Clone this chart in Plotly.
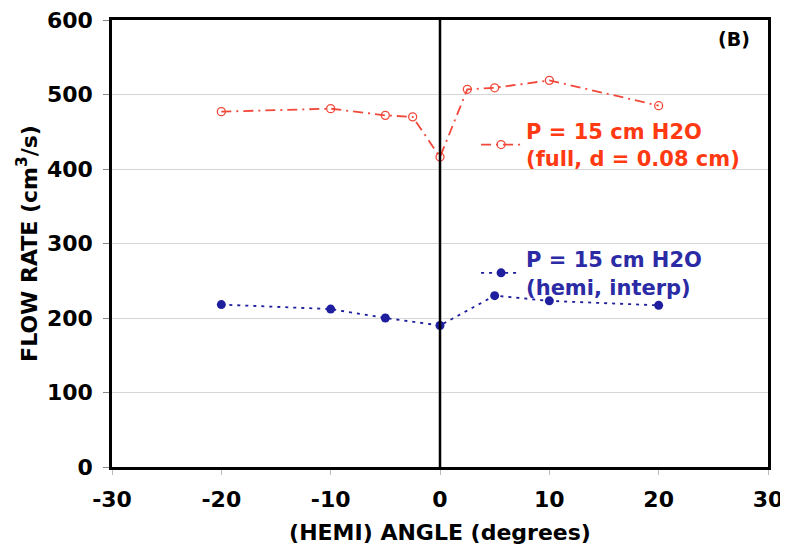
import plotly.graph_objects as go

full_angle = [-20, -10, -5, -2.5, 0, 2.5, 5, 10, 20]
full_flow = [477, 481, 472, 470, 416, 507, 509, 519, 485]
hemi_angle = [-20, -10, -5, 0, 5, 10, 20]
hemi_flow = [218, 212, 200, 190, 230, 223, 217]
x_ticks = [-30, -20, -10, 0, 10, 20, 30]
x_tick_labels = ["-30", "-20", "-10", "0", "10", "20", "30"]
y_ticks = [0, 100, 200, 300, 400, 500, 600]

FONT = "DejaVu Sans"
RED = "#F2483A"
RED_TXT = "#FF3A12"
BLUE = "#1E1E9E"
BLUE_TXT = "#2B2BA5"

fig = go.Figure()
fig.add_trace(go.Scatter(
    x=full_angle, y=full_flow, mode="lines+markers",
    name="P = 15 cm H2O<br>(full, d = 0.08 cm)",
    line=dict(color=RED, width=1.8, dash="10px,5px,2px,5px"),
    marker=dict(symbol="circle-open", size=8, color=RED, line=dict(width=1.3)),
    legend="legend", showlegend=True,
))
fig.add_trace(go.Scatter(
    x=hemi_angle, y=hemi_flow, mode="lines+markers",
    name="P = 15 cm H2O<br>(hemi, interp)",
    line=dict(color=BLUE, width=1.8, dash="3px,5px"),
    marker=dict(symbol="circle", size=9, color=BLUE),
    legend="legend2", showlegend=True,
))

fig.add_shape(type="line", x0=0, x1=0, y0=0, y1=600, xref="x", yref="y",
              line=dict(color="black", width=2.5))

fig.add_annotation(x=1, y=1, xref="paper", yref="paper", text="<b>(B)</b>",
                   showarrow=False, xanchor="right", yanchor="middle", xshift=-16, yshift=-19,
                   font=dict(family=FONT, size=19, color="black"))

fig.update_layout(
    width=780, height=539,
    margin=dict(l=104, r=20, t=12, b=80),
    plot_bgcolor="white", paper_bgcolor="white",
    showlegend=True,
    font=dict(family=FONT, color="black"),
    legend=dict(x=0.555, y=0.797, xanchor="left", yanchor="top",
                bgcolor="rgba(0,0,0,0)", itemwidth=40,
                font=dict(family=FONT, size=21, color=RED_TXT, weight="bold")),
    legend2=dict(x=0.555, y=0.51, xanchor="left", yanchor="top",
                 bgcolor="rgba(0,0,0,0)", itemwidth=40,
                 font=dict(family=FONT, size=21, color=BLUE_TXT, weight="bold")),
    xaxis=dict(range=[-30, 30], tickvals=x_ticks, ticktext=x_tick_labels,
               showgrid=False, zeroline=False, showline=True, mirror=True,
               linecolor="black", linewidth=2.5, ticks="outside", ticklen=5,
               tickcolor="#bbbbbb", automargin=False, ticklabelstandoff=6,
               ticklabeloverflow="allow",
               tickfont=dict(family=FONT, size=22, weight="bold"),
               title=dict(text="<b>(HEMI) ANGLE (degrees)</b>",
                          font=dict(family=FONT, size=22), standoff=14)),
    yaxis=dict(range=[0, 600], tickvals=y_ticks,
               showgrid=True, gridcolor="#d6d6d6", gridwidth=1, zeroline=False,
               showline=True, mirror=True, linecolor="black", linewidth=2.5,
               ticks="outside", ticklen=6, tickcolor="#888888", automargin=False,
               ticklabelstandoff=6, ticklabeloverflow="allow",
               tickfont=dict(family=FONT, size=22, weight="bold"),
               title=dict(text="<b>FLOW RATE (cm<sup>3</sup>/s)</b>",
                          font=dict(family=FONT, size=22), standoff=4)),
)

fig.write_html("out.html")
